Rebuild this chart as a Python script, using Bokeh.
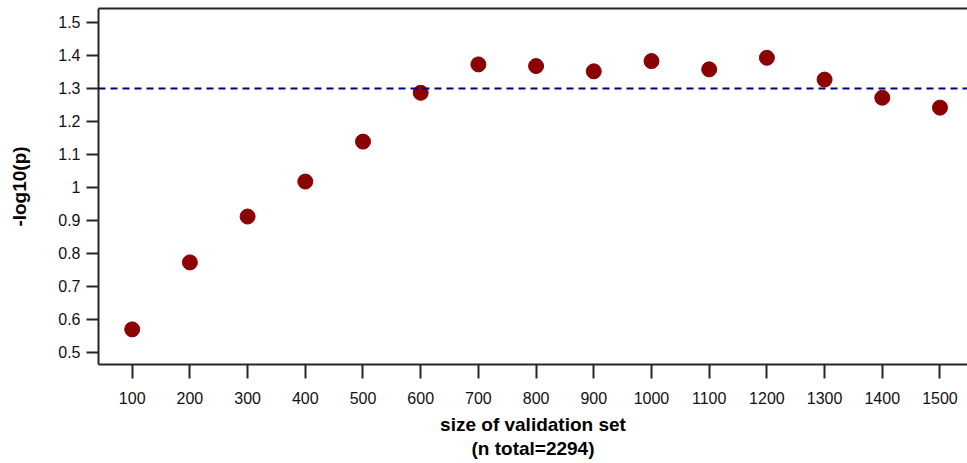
from bokeh.plotting import figure
from bokeh.models import LinearAxis, FixedTicker, Span, Range1d
from bokeh.embed import file_html
from bokeh.resources import INLINE

# ---- data ----
sizes = [100, 200, 300, 400, 500, 600, 700, 800, 900, 1000, 1100, 1200, 1300, 1400, 1500]
neg_log_p = [0.57, 0.773, 0.912, 1.018, 1.139, 1.287, 1.373, 1.368, 1.352, 1.383,
             1.358, 1.393, 1.327, 1.272, 1.242]
threshold = 1.3
y_ticks = [0.5, 0.6, 0.7, 0.8, 0.9, 1.0, 1.1, 1.2, 1.3, 1.4, 1.5]
y_tick_labels = ["0.5", "0.6", "0.7", "0.8", "0.9", "1", "1.1", "1.2", "1.3", "1.4", "1.5"]
x_ticks = sizes
x_label = "size of validation set\n(n total=2294)"
y_label = "-log10(p)"

FONT = "Liberation Sans"
AXC = "#262626"

p = figure(width=967, height=463, output_backend="svg", toolbar_location=None,
           x_range=Range1d(41.6, 1547.7), y_range=Range1d(0.4636, 1.5424),
           x_axis_location=None, y_axis_location=None,
           min_border_left=98, min_border_right=0, min_border_top=8, min_border_bottom=99)
p.outline_line_color = None
p.xgrid.visible = False
p.ygrid.visible = False
p.background_fill_color = "white"
p.border_fill_color = "white"

def style_axis(ax, tick_out):
    ax.axis_line_color = AXC
    ax.axis_line_width = 2
    ax.major_tick_line_color = AXC
    ax.major_tick_line_width = 2
    ax.major_tick_out = tick_out
    ax.major_tick_in = 0
    ax.minor_tick_line_color = None
    ax.major_label_text_font = FONT
    ax.major_label_text_font_size = "16px"
    ax.major_label_text_color = "#111111"
    ax.axis_label_text_font = FONT
    ax.axis_label_text_font_size = "19px"
    ax.axis_label_text_font_style = "bold"
    ax.axis_label_text_color = "#000000"

yax = LinearAxis(ticker=FixedTicker(ticks=y_ticks),
                 major_label_overrides=dict(zip(y_ticks, y_tick_labels)),
                 axis_label=y_label)
style_axis(yax, 12)
yax.major_label_standoff = 6
yax.axis_label_standoff = 25
p.add_layout(yax, "left")

xax = LinearAxis(ticker=FixedTicker(ticks=x_ticks), axis_label=x_label)
style_axis(xax, 14)
xax.major_label_standoff = 13
xax.axis_label_standoff = 7
xax.axis_label_text_line_height = 1.15
p.add_layout(xax, "below")

top = LinearAxis(ticker=FixedTicker(ticks=[]), major_tick_out=0, major_tick_in=0,
                 major_label_standoff=0, axis_label_standoff=0)
top.axis_line_color = AXC
top.axis_line_width = 2
top.minor_tick_line_color = None
top.major_label_text_font_size = "0px"
p.add_layout(top, "above")

p.add_layout(Span(location=threshold, dimension="width", line_color="#000080",
                  line_dash="7 5", line_width=2))

p.scatter(x=sizes, y=neg_log_p, marker="circle", size=15,
          fill_color="#8B0000", line_color="#8B0000")

open("out.html", "w").write(file_html(p, INLINE))
